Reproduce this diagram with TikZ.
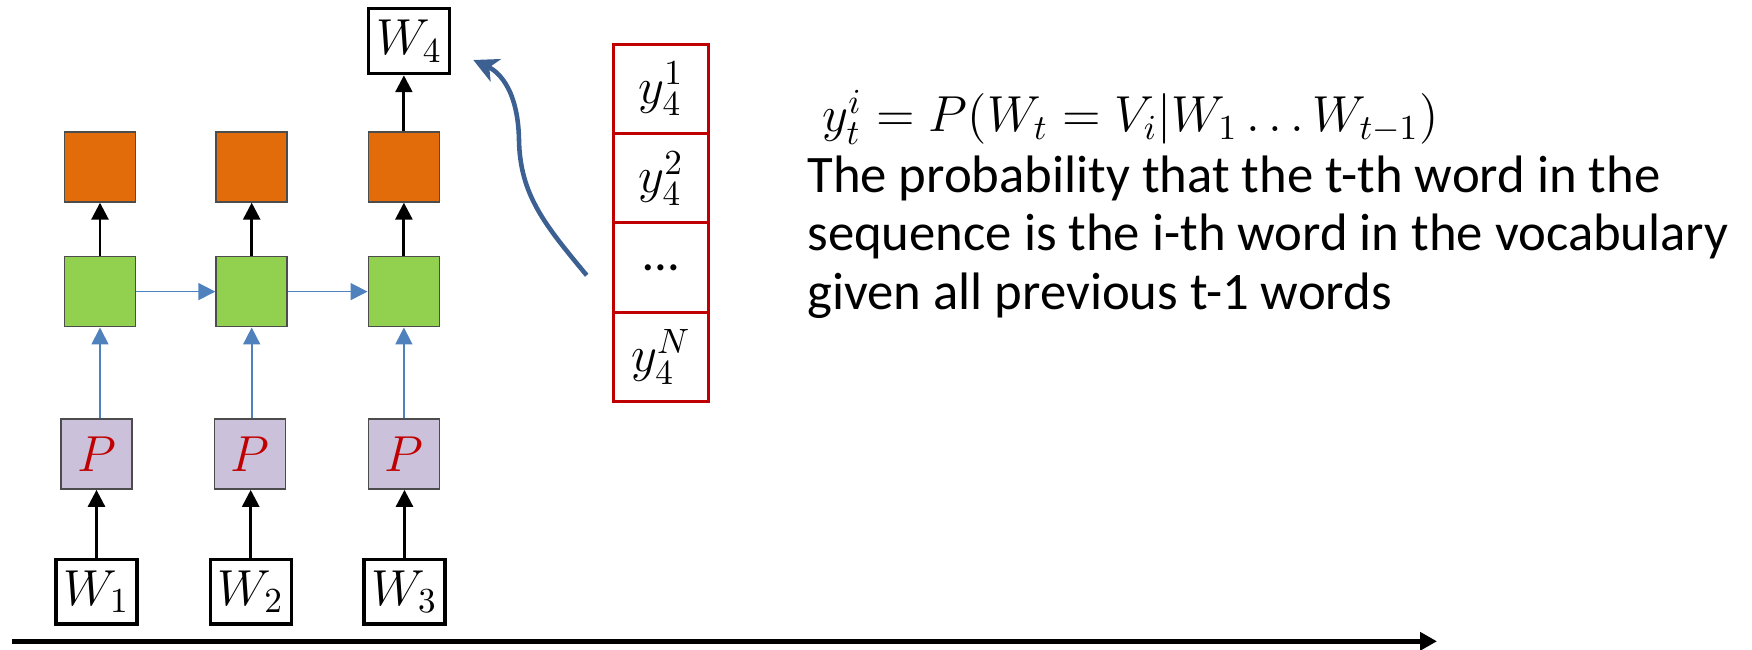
\documentclass[tikz,border=0pt]{standalone}
\usepackage{fontspec}
\setmainfont{Carlito}
\usepackage{amsmath}
\usetikzlibrary{arrows.meta, positioning}
\definecolor{outorange}{RGB}{227,108,10}
\definecolor{hidgreen}{RGB}{146,208,80}
\definecolor{projlilac}{RGB}{204,193,218}
\definecolor{flowblue}{RGB}{79,129,189}
\definecolor{curveblue}{RGB}{59,96,145}
\definecolor{vecred}{RGB}{192,0,0}

\begin{document}
\begin{tikzpicture}[
  cell/.style={rectangle, draw=black!70, line width=0.5pt, inner sep=0pt,
               minimum width=0.71cm, minimum height=0.70cm},
  word/.style={rectangle, draw=black, line width=0.9pt, inner sep=0pt,
               minimum width=0.81cm, minimum height=0.645cm,
               font=\fontsize{14.5}{16}\selectfont},
  probbox/.style={rectangle, draw=vecred, line width=0.9pt, inner sep=0pt,
                  minimum width=0.946cm, minimum height=0.893cm,
                  font=\fontsize{14.5}{16}\selectfont},
  up/.style={-{Triangle[length=4.8pt, width=4.8pt]}, line width=0.8pt},
  flow/.style={-{Triangle[length=4.8pt, width=4.8pt]}, line width=0.5pt,
               color=flowblue}
]
  \useasboundingbox (0,0) rectangle (17.52,-6.49);

  % Input words
  \node[word] (w1) at (0.965,-5.917) {$W_1$};
  \node[word] (w2) at (2.507,-5.917) {$W_2$};
  \node[word] (w3) at (4.045,-5.917) {$W_3$};

  % Projection layer
  \node[cell, fill=projlilac, font=\fontsize{15}{16}\selectfont, text=vecred]
    (p1) at (0.965,-4.54) {$P$};
  \node[cell, fill=projlilac, font=\fontsize{15}{16}\selectfont, text=vecred]
    (p2) at (2.501,-4.54) {$P$};
  \node[cell, fill=projlilac, font=\fontsize{15}{16}\selectfont, text=vecred]
    (p3) at (4.039,-4.54) {$P$};

  % Hidden states
  \node[cell, fill=hidgreen] (h1) at (1.00,-2.916) {};
  \node[cell, fill=hidgreen] (h2) at (2.517,-2.916) {};
  \node[cell, fill=hidgreen] (h3) at (4.039,-2.916) {};

  % Outputs
  \node[cell, fill=outorange] (o1) at (1.00,-1.668) {};
  \node[cell, fill=outorange] (o2) at (2.517,-1.668) {};
  \node[cell, fill=outorange] (o3) at (4.039,-1.668) {};

  % Predicted word
  \node[word, minimum height=0.655cm] (w4) at (4.092,-0.41) {$W_4$};

  % Arrows
  \draw[up] (w1.north) -- (w1.north |- p1.south);
  \draw[up] (w2.north) -- (w2.north |- p2.south);
  \draw[up] (w3.north) -- (w3.north |- p3.south);
  \draw[flow] (p1.north -| h1.north) -- (h1.south);
  \draw[flow] (p2.north -| h2.north) -- (h2.south);
  \draw[flow] (p3.north) -- (h3.south);
  \draw[flow] (h1.east) -- (h2.west);
  \draw[flow] (h2.east) -- (h3.west);
  \draw[up] (h1.north) -- (o1.south);
  \draw[up] (h2.north) -- (o2.south);
  \draw[up] (h3.north) -- (o3.south);
  \draw[up] (o3.north) -- (o3.north |- w4.south);

  % Output distribution
  \node[probbox] (y1) at (6.61,-0.8895) {$y_4^1$};
  \node[probbox] (y2) at (6.61,-1.7825) {$y_4^2$};
  \node[probbox] (ydots) at (6.61,-2.6755) {\ldots};
  \node[probbox] (yN) at (6.61,-3.5685) {$y_4^N$};

  % Curved pointer
  \coordinate (curvestart) at (5.867,-2.753);
  \coordinate (curveend) at (4.733,-0.60);
  \draw[-{Stealth[length=7pt, width=7pt, inset=2pt]}, line width=1.3pt,
        color=curveblue]
    (curvestart) .. controls (5.45,-2.25) and (5.2,-1.95) .. (5.19,-1.4)
    .. controls (5.18,-0.85) and (4.95,-0.7) .. (curveend);

  % Formula and meaning
  \node[anchor=base west, inner sep=0pt, font=\fontsize{14.5}{16}\selectfont]
    (formula) at (8.217,-1.317)
    {$y_t^i = P(W_t = V_i | W_1 \ldots W_{t-1})$};
  \node[anchor=north west, inner sep=0pt, align=left,
        font=\fontsize{15}{16.6}\selectfont] (meaning) at (8.067,-1.55)
    {The probability that the t-th word in the\\
     sequence is the i-th word in the vocabulary\\
     given all previous t-1 words};

  % Time axis
  \coordinate (axisstart) at (0.12,-6.413);
  \coordinate (axisend) at (14.37,-6.413);
  \draw[-{Triangle[length=4.8pt, width=5pt]}, line width=1.5pt]
    (axisstart) -- (axisend);
\end{tikzpicture}
\end{document}
